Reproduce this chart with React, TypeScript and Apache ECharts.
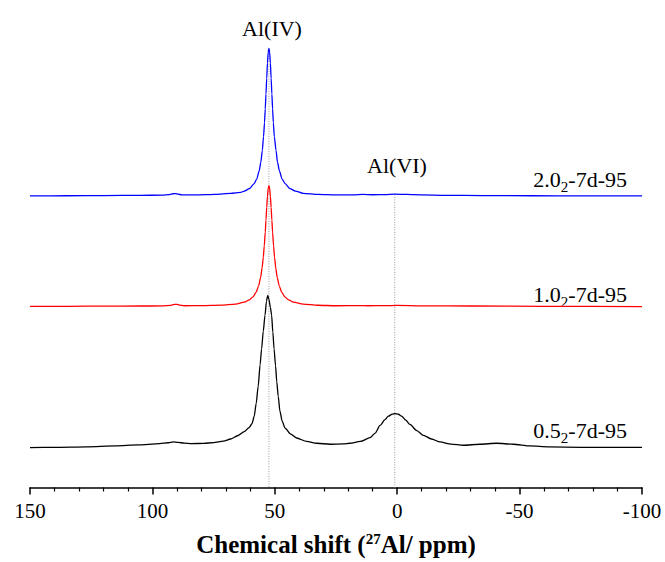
import React, { useEffect, useRef } from "react";
import * as echarts from "echarts";

// ---- data (ppm, intensity above each trace's own baseline) ----
const bluePpm = [150, 135, 120, 105, 96, 93, 91.5, 90.5, 89.5, 88, 84, 78, 72, 68, 64, 62.4, 60.4, 58.4, 57.4, 56.4, 55.7, 55.1, 54.6, 54.2, 53.9, 53.6, 53.3, 53.0, 52.7, 52.4, 52.1, 51.8, 51.5, 51.2, 50.9, 50.6, 50.2, 49.5, 48.9, 48.1, 47.0, 45.8, 43.8, 41.6, 38.4, 32.4, 25, 18, 14, 10, 5, 1, -4, -10, -20, -35, -55, -75, -100];
const blueInt = [0, 0.2, 0.4, 0.6, 0.8, 1.3, 2.2, 2.4, 1.8, 1.1, 1.0, 1.3, 1.9, 2.6, 3.6, 4.9, 7.4, 12.5, 17, 25, 34, 46, 60, 74, 88, 103, 119, 134, 145, 149, 145, 134, 119, 103, 88, 74, 60, 46, 34, 25, 17, 12.5, 7.4, 4.9, 2.6, 1.5, 1.0, 1.0, 1.5, 1.2, 1.4, 1.8, 1.5, 1.0, 0.6, 0.4, 0.2, 0.1, 0];

const redPpm = [150, 135, 120, 105, 96, 92.5, 91, 90, 89, 87, 80, 72, 66, 62.4, 60.4, 58.9, 57.6, 56.6, 55.8, 55.2, 54.7, 54.3, 53.9, 53.6, 53.3, 53.0, 52.7, 52.4, 52.1, 51.8, 51.5, 51.2, 50.9, 50.5, 50.1, 49.6, 49.0, 48.2, 47.2, 45.9, 44.4, 42.4, 38.4, 32.4, 25, 15, 12, 5, 0, -10, -30, -60, -100];
const redInt = [0, 0, 0.2, 0.3, 0.4, 1.0, 1.9, 2.0, 1.3, 0.6, 0.7, 1.2, 2.3, 4.2, 6.5, 9.6, 14.4, 20.7, 29, 38.5, 49.5, 61, 75, 87, 100, 111, 119, 122, 119, 111, 100, 87, 75, 61, 49.5, 38.5, 29, 20.7, 14.4, 9.6, 6.5, 4.2, 2.2, 1.1, 0.6, 0.8, 0.6, 0.7, 0.9, 0.5, 0.3, 0, -0.3];

const blackPpm = [150, 140, 127, 115, 106, 97, 93.5, 91.4, 89.5, 87, 84, 79, 75, 71, 68, 65, 62.5, 60.5, 59.3, 58.4, 57.6, 56.8, 56.0, 55.4, 54.7, 54.0, 53.4, 52.9, 52.4, 51.8, 51.3, 50.8, 50.3, 49.7, 49.2, 48.6, 47.9, 47.0, 45.8, 43.5, 41.1, 37, 32.9, 27.4, 22, 19.3, 15, 11.1, 9, 7.0, 5, 3.6, 2, 0.9, -0.5, -1.8, -3.5, -5.2, -8, -10.7, -14, -17.5, -22, -27, -33.8, -40.6, -47.4, -54.2, -62, -75, -100];
const blackInt = [0.3, 0.5, 1.0, 2.0, 3.0, 4.3, 5.2, 6.0, 5.6, 4.8, 4.3, 4.6, 5.3, 6.8, 9, 12.5, 16.5, 20.5, 24.5, 32, 45, 62, 84, 100, 118, 134, 148, 154, 150, 142, 134, 117, 100, 83, 67, 52, 37, 27, 20, 14, 10, 6.5, 4.7, 3.7, 4.0, 4.7, 6.5, 10.3, 15, 22.7, 28.5, 32, 34.2, 34.7, 34, 32, 28, 23.7, 17.5, 12.7, 9, 6, 3.8, 2.7, 3.7, 4.7, 3.7, 2, 1, 0.6, 0.5];

// vertical stacking offsets of the three traces
const offsetBlack = 40;
const offsetRed = 183;
const offsetBlue = 294.5;

// guide lines (ppm, top value)
const guideAlIV = [[52.4, 443.5], [52.4, 0]];
const guideAlVI = [[1, 296], [1, 0]];

const sampleLabels = ["0.5", "1.0", "2.0"];
const peakLabels = ["Al(IV)", "Al(VI)"];

const SERIF = "'Liberation Serif', 'Times New Roman', serif";

function build(ppm: number[], ints: number[], off: number) {
  return ppm.map((p, i) => [p, ints[i] + off]);
}

function sampleText(s: string) {
  return `{a|${s}}{s|2}{a|-7d-95}`;
}

const sampleRich = {
  a: { fontSize: 22, fontFamily: SERIF, fill: "#000", color: "#000", lineHeight: 26, verticalAlign: "middle" },
  s: { fontSize: 15, fontFamily: SERIF, fill: "#000", color: "#000", lineHeight: 15, verticalAlign: "top", padding: [13, 0, 0, 0] },
};

export default function App() {
  const ref = useRef<HTMLDivElement>(null);
  useEffect(() => {
    if (!ref.current) return;
    const chart = echarts.init(ref.current, undefined, { renderer: "svg" });
    const lineBase = { type: "line", showSymbol: false, symbol: "none", smooth: 0.25, smoothMonotone: "x", silent: true };
    chart.setOption({
      animation: false,
      backgroundColor: "#fff",
      grid: { left: 30, right: 23, top: 40, bottom: 70 },
      xAxis: {
        type: "value",
        min: -100,
        max: 150,
        interval: 50,
        inverse: true,
        axisLine: { show: true, onZero: false, lineStyle: { color: "#000", width: 1.5 } },
        axisTick: { show: true, inside: false, length: 7, lineStyle: { color: "#000", width: 1.5 } },
        minorTick: { show: true, splitNumber: 5, length: 4, lineStyle: { color: "#000", width: 1.2 } },
        splitLine: { show: false },
        axisLabel: { color: "#000", fontSize: 21, fontFamily: SERIF, margin: 13 },
        name: "{b|Chemical shift (}{sup|27}{b|Al/ ppm)}",
        nameLocation: "middle",
        nameGap: 42,
        nameTextStyle: {
          rich: {
            b: { fontSize: 25, fontWeight: "bold", fontFamily: SERIF, color: "#000", lineHeight: 30, verticalAlign: "middle" },
            sup: { fontSize: 15, fontWeight: "bold", fontFamily: SERIF, color: "#000", lineHeight: 15, verticalAlign: "top", padding: [2, 0, 0, 0] },
          },
        },
      },
      yAxis: { type: "value", min: 0, max: 452, show: false },
      series: [
        { type: "line", data: guideAlIV, symbol: "none", silent: true, z: 1, lineStyle: { color: "#999", width: 1, type: [1, 1.5] } },
        { type: "line", data: guideAlVI, symbol: "none", silent: true, z: 1, lineStyle: { color: "#999", width: 1, type: [1, 1.5] } },
        { ...lineBase, z: 3, data: build(blackPpm, blackInt, offsetBlack), lineStyle: { color: "#000", width: 1.3 } },
        { ...lineBase, z: 3, data: build(redPpm, redInt, offsetRed), lineStyle: { color: "#ff0000", width: 1.3 } },
        { ...lineBase, z: 3, data: build(bluePpm, blueInt, offsetBlue), lineStyle: { color: "#0000ff", width: 1.3 } },
      ],
      graphic: [
        { type: "text", x: 272, y: 28, style: { text: peakLabels[0], fontSize: 22, fontFamily: SERIF, fill: "#000", align: "center", verticalAlign: "middle" } },
        { type: "text", x: 397, y: 165, style: { text: peakLabels[1], fontSize: 22, fontFamily: SERIF, fill: "#000", align: "center", verticalAlign: "middle" } },
        { type: "text", x: 627, y: 179, style: { text: sampleText(sampleLabels[2]), rich: sampleRich, align: "right", verticalAlign: "middle", fill: "#000" } },
        { type: "text", x: 627, y: 294, style: { text: sampleText(sampleLabels[1]), rich: sampleRich, align: "right", verticalAlign: "middle", fill: "#000" } },
        { type: "text", x: 627, y: 430, style: { text: sampleText(sampleLabels[0]), rich: sampleRich, align: "right", verticalAlign: "middle", fill: "#000" } },
      ],
    });
    return () => chart.dispose();
  }, []);
  return <div ref={ref} style={{ width: 665, height: 562, position: "absolute", left: 0, top: 0 }} />;
}
